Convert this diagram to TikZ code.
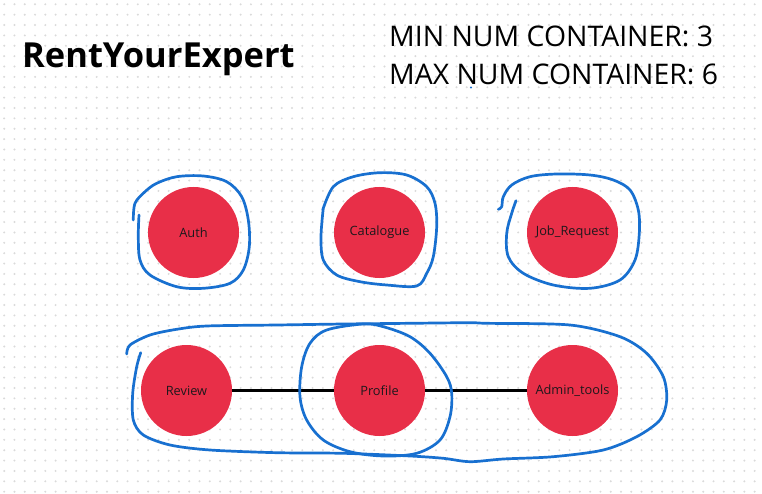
\documentclass[tikz,border=0pt]{standalone}
\usepackage{fontspec}
\setmainfont{Open Sans}
\newfontfamily\titlefont{Open Sans}
\usetikzlibrary{calc}
\definecolor{svcred}{RGB}{232,47,72}
\definecolor{penblue}{RGB}{24,112,208}
\definecolor{griddot}{RGB}{218,218,218}
\definecolor{labelink}{RGB}{30,24,28}
\tikzset{
  service/.style={circle, fill=svcred, draw=none, minimum size=91pt, inner sep=0pt,
    font=\fontsize{12.8}{15}\selectfont, text=labelink},
  pen/.style={draw=penblue, line width=2.7pt, line cap=round, line join=round},
  link/.style={draw=black, line width=2.6pt},
}
\begin{document}
\begin{tikzpicture}[x=1pt,y=-1pt]
  \useasboundingbox (0,0) rectangle (762,494);
  \fill[white] (0,0) rectangle (762,494);
  % dotted canvas grid
  \foreach \i in {0,...,73} {
    \foreach \j in {0,...,47} {
      \fill[griddot] (4.2+10.28*\i, 4.3+10.37*\j) circle (1.1pt);
    }
  }

  % headings
  \node[anchor=base west, inner sep=0pt, font=\titlefont\bfseries\fontsize{34.5}{40}\selectfont]
    (title) at (22,68) {RentYourExpert};
  \node[anchor=base west, inner sep=0pt, font=\fontsize{28.4}{32}\selectfont]
    (minline) at (389,47) {MIN NUM CONTAINER: 3};
  \node[anchor=base west, inner sep=0pt, font=\fontsize{28.4}{32}\selectfont]
    (maxline) at (389,85) {MAX NUM CONTAINER: 6};
  \fill[penblue] (471,87.5) circle (1.1pt);

  % services
  \node[service] (auth) at (193.5,232.5) {Auth};
  \node[service] (catalogue) at (379.5,232.5) {Catalogue};
  \node[service] (jobreq) at (572.5,232.5) {Job\_Request};
  \node[service] (review) at (186.5,390.5) {Review};
  \node[service] (profile) at (379.5,390.5) {Profile};
  \node[service] (admin) at (572.5,390.5) {Admin\_tools};

  % links between services
  \draw[link] (review) -- (profile);
  \draw[link] (profile) -- (admin);

  % hand-drawn container loops
  \draw[pen] plot[smooth, tension=0.55] coordinates {
    (133.3,220) (135,203.3) (145,191.7) (156.7,183.3) (176.7,176.7) (203.3,176)
    (226.7,181.7) (241.7,196.7) (248.3,220) (249.3,246.7) (243.3,270) (230,283.3)
    (203.3,288.3) (176.7,286.7) (150,275) (140,260) (138.3,236.7) (139,215)};
  \draw[pen] plot[smooth, tension=0.55] coordinates {
    (322.7,210) (333.3,186.7) (353.3,176.7) (380,172.7) (406.7,175) (426.7,186.7)
    (435,203.3) (436.7,226.7) (433.3,256.7) (426.7,273.3) (416.7,286) (386.7,285)
    (360,281.7) (336.7,275) (323.3,260) (321,236.7) (323.3,208)};
  \draw[pen] plot[smooth, tension=0.55] coordinates {
    (498.3,209.3) (501.7,206.7) (503.3,196.7) (511.7,185) (530,176.7) (556.7,174)
    (590,175) (613.3,180) (630,190) (638.3,210) (639.3,233.3) (635,260) (620,280)
    (590,288.3) (553.3,285) (523.3,273.3) (508.3,256.7) (506.7,233.3) (511.7,213.3)
    (516,200.7)};
  \draw[pen] plot[smooth, tension=0.5] coordinates {
    (126.7,354) (130,345) (150,335) (176.7,329.3) (206.7,326) (276.7,325) (343.3,324)
    (410,323.3) (470,322.7) (486.7,323.3) (570,325) (620,336.7) (646.7,353.3)
    (663.3,376.7) (666.7,400) (660,420) (636.7,436.7) (603.3,450) (553.3,456.7)
    (503.3,459) (470,461.7) (443.3,458.3) (410,456) (343.3,453.3) (276.7,452.7)
    (210,450) (170,445) (143.3,435) (133.3,420) (132.7,393.3) (136.7,366.7)
    (140.7,352.7)};
  \draw[pen] plot[smooth cycle, tension=0.55] coordinates {
    (363.3,324) (326.7,330) (310,343.3) (301.7,366.7) (300,396.7) (306.7,420)
    (323.3,440) (350,451.7) (383.3,456) (416.7,453.3) (440,440) (450,416.7)
    (451.7,393.3) (446.7,376.7) (430,353.3) (410,336.7) (383.3,326.7)};
\end{tikzpicture}
\end{document}
